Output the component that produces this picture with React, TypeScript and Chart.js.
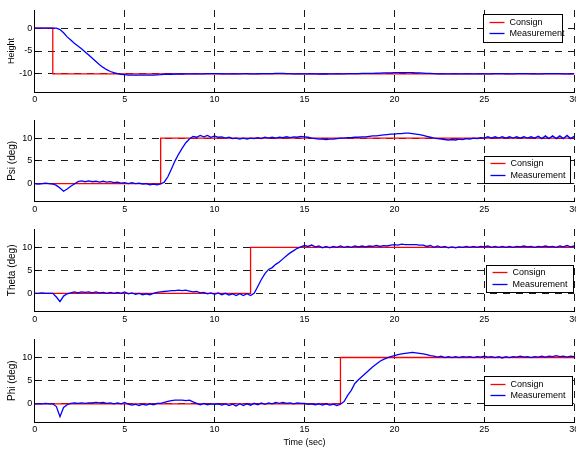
import React, { useEffect, useRef } from "react";
import { Chart, registerables } from "chart.js";

Chart.register(...registerables);

const FONT = 'Arial, "Liberation Sans", Helvetica, sans-serif';

// sample times (s), 0 .. 30 every 0.2 s
const timeSec: number[] = Array.from({ length: 151 }, (_, i) => +(i * 0.2).toFixed(1));
const xTickValues = [0, 5, 10, 15, 20, 25, 30];
const heightTickValues = [-10, -5, 0];
const angleTickValues = [0, 5, 10];
const legendLabels = ["Consign", "Measurement"];

// set-points (step functions)
const heightConsignTime = [0, 1, 1, 30];
const heightConsignValue = [0, 0, -10, -10];
const psiConsignTime = [0, 7, 7, 30];
const psiConsignValue = [0, 0, 10, 10];
const thetaConsignTime = [0, 12, 12, 30];
const thetaConsignValue = [0, 0, 10, 10];
const phiConsignTime = [0, 17, 17, 30];
const phiConsignValue = [0, 0, 10, 10];

// measurements, one value per sample time
const heightMeasure = [
  0, 0, 0, 0, 0, 0, 0, -0.3, -1.0, -1.9,
  -2.6, -3.3, -3.9, -4.5, -5.2, -5.9, -6.6, -7.3, -8.0, -8.6,
  -9.1, -9.5, -9.75, -9.95, -10.1, -10.2, -10.3, -10.3, -10.3, -10.3,
  -10.3, -10.3, -10.3, -10.3, -10.25, -10.2, -10.1, -10.1, -10.1, -10.05,
  -10.05, -10.05, -10.0, -10.0, -10.0, -10.0, -10.0, -10.0, -9.95, -9.95,
  -9.95, -9.95, -10.0, -10.0, -10.0, -10.0, -10.0, -10.0, -9.95, -9.95,
  -10.0, -10.0, -10.0, -9.95, -9.95, -9.95, -9.95, -9.9, -9.9, -9.9,
  -9.95, -9.95, -10.0, -10.0, -10.0, -10.0, -10.0, -10.0, -10.0, -10.05,
  -10.05, -10.05, -10.0, -10.0, -10.0, -10.0, -10.0, -9.95, -9.95, -9.95,
  -9.95, -9.9, -9.9, -9.9, -9.9, -9.85, -9.85, -9.8, -9.8, -9.8,
  -9.75, -9.75, -9.75, -9.75, -9.75, -9.75, -9.8, -9.8, -9.85, -9.9,
  -9.9, -9.95, -10.0, -10.0, -10.0, -10.0, -10.0, -10.0, -10.0, -10.0,
  -10.0, -10.0, -10.0, -10.0, -10.0, -10.0, -10.0, -10.0, -9.95, -9.95,
  -9.95, -10.0, -10.0, -10.0, -9.95, -9.95, -9.95, -9.95, -10.0, -10.0,
  -10.0, -10.0, -9.95, -9.95, -9.95, -9.95, -9.95, -10.0, -10.0, -10.0,
  -10.0,
];

const psiMeasure = [
  0, -0.1, 0, 0.1, 0, -0.1, -0.4, -1.0, -1.7, -1.2,
  -0.6, -0.1, 0.4, 0.6, 0.4, 0.6, 0.4, 0.5, 0.3, 0.5,
  0.3, 0.4, 0.2, 0.3, 0.1, 0.2, 0.0, 0.2, 0.0, 0.1,
  -0.1, 0.0, -0.3, -0.1, -0.3, -0.1, 0.3, 1.5, 3.2, 5.0,
  6.5, 7.8, 9.0, 9.8, 10.4, 10.2, 10.6, 10.3, 10.6, 10.2,
  10.5, 10.2, 10.3, 10.0, 10.2, 9.9, 10.0, 9.8, 10.0, 9.8,
  10.0, 9.9, 10.1, 9.9, 10.2, 10.0, 10.2, 10.0, 10.2, 10.1,
  10.3, 10.1, 10.3, 10.2, 10.4, 10.3, 10.2, 10.0, 9.9, 9.8,
  9.8, 9.7, 9.8, 9.8, 9.9, 10.0, 10.0, 10.1, 10.1, 10.2,
  10.2, 10.3, 10.3, 10.4, 10.5, 10.5, 10.6, 10.7, 10.8, 10.9,
  10.9, 11.0, 11.0, 11.1, 11.1, 11.0, 10.9, 10.8, 10.6, 10.4,
  10.2, 10.0, 9.9, 9.8, 9.7, 9.6, 9.7, 9.6, 9.8, 9.7,
  9.9, 9.8, 10.0, 9.9, 10.1, 10.0, 10.3, 10.0, 10.3, 10.0,
  10.3, 10.0, 10.3, 10.0, 10.3, 10.0, 10.3, 10.0, 10.3, 10.0,
  10.4, 9.9, 10.5, 9.9, 10.5, 9.9, 10.5, 9.9, 10.6, 9.9,
  10.4,
];

const thetaMeasure = [
  0, 0, 0.1, 0, 0, 0, -0.8, -1.8, -0.6, -0.1,
  0.1, 0.3, 0.1, 0.3, 0.2, 0.3, 0.1, 0.3, 0.1, 0.2,
  0.0, 0.2, 0.0, 0.2, 0.0, 0.3, -0.1, 0.1, -0.2, 0.0,
  -0.3, -0.1, -0.3, 0.0, 0.2, 0.3, 0.4, 0.5, 0.6, 0.6,
  0.7, 0.6, 0.7, 0.5, 0.3, 0.4, 0.1, 0.2, -0.1, 0.1,
  -0.2, 0.1, -0.3, 0.0, -0.4, -0.1, -0.5, -0.1, -0.5, -0.1,
  -0.5, 0.0, 1.5, 3.0, 4.3, 5.2, 5.6, 6.3, 6.8, 7.5,
  8.2, 8.8, 9.3, 9.8, 10.1, 10.4, 10.2, 10.5, 10.1, 10.3,
  9.9, 10.2, 9.9, 10.2, 10.0, 10.3, 10.0, 10.2, 10.0, 10.3,
  10.1, 10.3, 10.1, 10.3, 10.2, 10.4, 10.2, 10.4, 10.3, 10.5,
  10.6, 10.5, 10.7, 10.6, 10.6, 10.6, 10.6, 10.5, 10.5, 10.2,
  10.4, 10.0, 10.3, 10.0, 10.2, 9.9, 10.1, 9.9, 10.1, 10.0,
  10.2, 10.0, 10.2, 10.0, 10.2, 10.1, 10.3, 10.0, 10.2, 10.0,
  10.2, 10.0, 10.2, 10.0, 10.2, 10.1, 10.3, 10.1, 10.2, 10.0,
  10.2, 10.1, 10.3, 10.1, 10.2, 10.0, 10.3, 10.1, 10.4, 10.1,
  10.3,
];

const phiMeasure = [
  0, 0, 0, 0.1, 0, 0, -0.6, -2.8, -0.8, -0.2,
  0.1, 0.2, 0.1, 0.2, 0.1, 0.2, 0.2, 0.3, 0.2, 0.3,
  0.1, 0.2, 0.0, 0.2, 0.0, 0.3, -0.1, -0.3, -0.1, -0.4,
  -0.1, -0.3, 0.0, -0.2, 0.1, 0.1, 0.3, 0.5, 0.7, 0.8,
  0.8, 0.8, 0.7, 0.8, 0.4, 0.1, -0.2, 0.1, -0.2, 0.0,
  -0.1, 0.0, -0.3, 0.0, -0.4, -0.1, -0.5, 0.0, -0.4, 0.0,
  -0.3, 0.1, -0.2, 0.2, -0.1, 0.2, 0.0, 0.3, 0.1, 0.3,
  0.1, 0.2, 0.0, 0.2, 0.1, 0.1, -0.1, 0.0, -0.2, 0.0,
  -0.3, 0.0, -0.3, -0.1, -0.4, -0.1, 0.5, 1.8, 2.9, 4.4,
  5.2, 5.9, 6.6, 7.3, 8.0, 8.6, 9.2, 9.6, 9.9, 10.2,
  10.4, 10.6, 10.8, 10.9, 11.0, 11.1, 11.0, 10.9, 10.8, 10.6,
  10.4, 10.3, 10.1, 10.3, 10.0, 10.2, 10.0, 10.2, 10.0, 10.2,
  10.1, 10.2, 10.0, 10.2, 10.1, 10.3, 10.1, 10.2, 10.0, 10.2,
  9.9, 10.2, 10.0, 10.2, 10.1, 10.3, 10.1, 10.2, 10.0, 10.2,
  10.1, 10.3, 10.1, 10.3, 10.2, 10.4, 10.2, 10.3, 10.1, 10.3,
  10.2,
];

const RED = "#ff0000";
const BLUE = "#0000ff";
const GRID = "#1a1a1a";

type PanelCfg = {
  top: number;
  height: number;
  padTop: number;
  xAxisH: number;
  yMin: number;
  yMax: number;
  yTicks: number[];
  yTitle: string;
  yTitleSize: number;
  xTitle?: string;
  measure: number[];
  consignT: number[];
  consignV: number[];
  legend: { dx: number; dy: number; w: number; h: number; rows: number[] };
};

const panels: PanelCfg[] = [
  {
    top: 0, height: 110, padTop: 10, xAxisH: 18,
    yMin: -14, yMax: 4, yTicks: heightTickValues, yTitle: "Height", yTitleSize: 9,
    measure: heightMeasure, consignT: heightConsignTime, consignV: heightConsignValue,
    legend: { dx: 448.5, dy: 4, w: 79, h: 28, rows: [7.7, 19.3] },
  },
  {
    top: 110, height: 110, padTop: 10, xAxisH: 18.3,
    yMin: -4, yMax: 14, yTicks: angleTickValues, yTitle: "Psi (deg)", yTitleSize: 10,
    measure: psiMeasure, consignT: psiConsignTime, consignV: psiConsignValue,
    legend: { dx: 449.5, dy: 36, w: 86, h: 27, rows: [7.3, 19.3] },
  },
  {
    top: 220, height: 110, padTop: 9, xAxisH: 18.3,
    yMin: -4, yMax: 14, yTicks: angleTickValues, yTitle: "Theta (deg)", yTitleSize: 10,
    measure: thetaMeasure, consignT: thetaConsignTime, consignV: thetaConsignValue,
    legend: { dx: 451.2, dy: 36, w: 87, h: 27, rows: [7.3, 19.3] },
  },
  {
    top: 330, height: 120, padTop: 9, xAxisH: 27.7,
    yMin: -4, yMax: 14, yTicks: angleTickValues, yTitle: "Phi (deg)", yTitleSize: 10,
    xTitle: "Time (sec)",
    measure: phiMeasure, consignT: phiConsignTime, consignV: phiConsignValue,
    legend: { dx: 449.2, dy: 37.7, w: 88, h: 29, rows: [8.3, 19.3] },
  },
];

const align = (v: number) => Math.round(v - 0.5) + 0.5;

function Panel({ cfg }: { cfg: PanelCfg }) {
  const ref = useRef<HTMLCanvasElement>(null);

  useEffect(() => {
    const canvas = ref.current;
    if (!canvas) return;

    const innerTicks = {
      id: "innerTicks",
      beforeDatasetsDraw(chart: any) {
        const { ctx, chartArea: a, scales } = chart;
        const x = scales.x;
        const y = scales.y;
        ctx.save();
        ctx.strokeStyle = "#000";
        ctx.lineWidth = 1;
        ctx.beginPath();
        x.ticks.forEach((t: any) => {
          const px = align(x.getPixelForValue(t.value));
          ctx.moveTo(px, a.bottom);
          ctx.lineTo(px, a.bottom - 4);
        });
        y.ticks.forEach((t: any) => {
          const py = align(y.getPixelForValue(t.value));
          ctx.moveTo(a.left, py);
          ctx.lineTo(a.left + 4, py);
        });
        ctx.stroke();
        ctx.restore();
      },
    };

    const boxLegend = {
      id: "boxLegend",
      afterDatasetsDraw(chart: any) {
        const { ctx, chartArea: a } = chart;
        const L = cfg.legend;
        const left = align(a.left + L.dx);
        const top = align(a.top + L.dy);
        ctx.save();
        ctx.fillStyle = "#fff";
        ctx.fillRect(left, top, L.w, L.h);
        ctx.strokeStyle = "#000";
        ctx.lineWidth = 1;
        ctx.strokeRect(left, top, L.w, L.h);
        const colors = [RED, BLUE];
        legendLabels.forEach((text, i) => {
          const cy = align(top + L.rows[i]);
          ctx.strokeStyle = colors[i];
          ctx.lineWidth = 1.3;
          ctx.beginPath();
          ctx.moveTo(left + 6, cy);
          ctx.lineTo(left + 21, cy);
          ctx.stroke();
          ctx.fillStyle = "#000";
          ctx.font = `9px ${FONT}`;
          ctx.textBaseline = "middle";
          ctx.textAlign = "left";
          ctx.fillText(text, left + 26, cy);
        });
        ctx.restore();
      },
    };

    const chart = new Chart(canvas, {
      type: "line",
      data: {
        datasets: [
          {
            label: legendLabels[1],
            data: timeSec.map((t, i) => ({ x: t, y: cfg.measure[i] })),
            borderColor: BLUE,
            borderWidth: 1.3,
            pointRadius: 0,
            tension: 0,
            fill: false,
          },
          {
            label: legendLabels[0],
            data: cfg.consignT.map((t, i) => ({ x: t, y: cfg.consignV[i] })),
            borderColor: RED,
            borderWidth: 1.3,
            pointRadius: 0,
            tension: 0,
            fill: false,
          },
        ],
      },
      options: {
        animation: false,
        responsive: false,
        devicePixelRatio: 1,
        events: [],
        layout: {
          autoPadding: false,
          padding: { left: 0, right: 1.8, top: cfg.padTop, bottom: 0 },
        },
        plugins: {
          legend: { display: false },
          tooltip: { enabled: false },
          title: { display: false },
        },
        scales: {
          x: {
            type: "linear",
            min: 0,
            max: 30,
            afterBuildTicks: (s: any) => {
              s.ticks = xTickValues.map((v) => ({ value: v }));
            },
            afterFit: (s: any) => {
              s.height = cfg.xAxisH;
              s.paddingLeft = 0;
              s.paddingRight = 0;
            },
            grid: { color: GRID, lineWidth: 1, drawTicks: false },
            border: { display: true, color: "#000", width: 1, dash: [7, 6] },
            ticks: {
              padding: 2,
              color: "#000",
              autoSkip: false,
              maxRotation: 0,
              font: { family: FONT, size: 9 },
            },
            title: cfg.xTitle
              ? {
                  display: true,
                  text: cfg.xTitle,
                  color: "#000",
                  font: { family: FONT, size: 9 },
                  padding: { top: 0, bottom: 1.6 },
                }
              : { display: false },
          },
          y: {
            type: "linear",
            min: cfg.yMin,
            max: cfg.yMax,
            afterBuildTicks: (s: any) => {
              s.ticks = cfg.yTicks.map((v) => ({ value: v }));
            },
            afterFit: (s: any) => {
              s.width = 34.8;
              s.paddingTop = 0;
              s.paddingBottom = 0;
            },
            grid: { color: GRID, lineWidth: 1, drawTicks: false },
            border: { display: true, color: "#000", width: 1, dash: [7, 6] },
            ticks: {
              padding: 2.5,
              color: "#000",
              font: { family: FONT, size: 9 },
            },
            title: {
              display: true,
              text: cfg.yTitle,
              color: "#000",
              font: { family: FONT, size: cfg.yTitleSize },
              padding: { top: 12 - (cfg.yTitleSize * 1.2) / 2, bottom: 0 },
            },
          },
        },
      } as any,
      plugins: [innerTicks, boxLegend],
    });

    return () => chart.destroy();
  }, [cfg]);

  return (
    <canvas
      ref={ref}
      width={576}
      height={cfg.height}
      style={{ position: "absolute", left: 0, top: cfg.top, width: 576, height: cfg.height, display: "block" }}
    />
  );
}

export default function App() {
  return (
    <div
      style={{
        position: "absolute",
        left: 0,
        top: 0,
        width: 576,
        height: 450,
        overflow: "hidden",
        background: "#fff",
      }}
    >
      {panels.map((p, i) => (
        <Panel key={i} cfg={p} />
      ))}
    </div>
  );
}
